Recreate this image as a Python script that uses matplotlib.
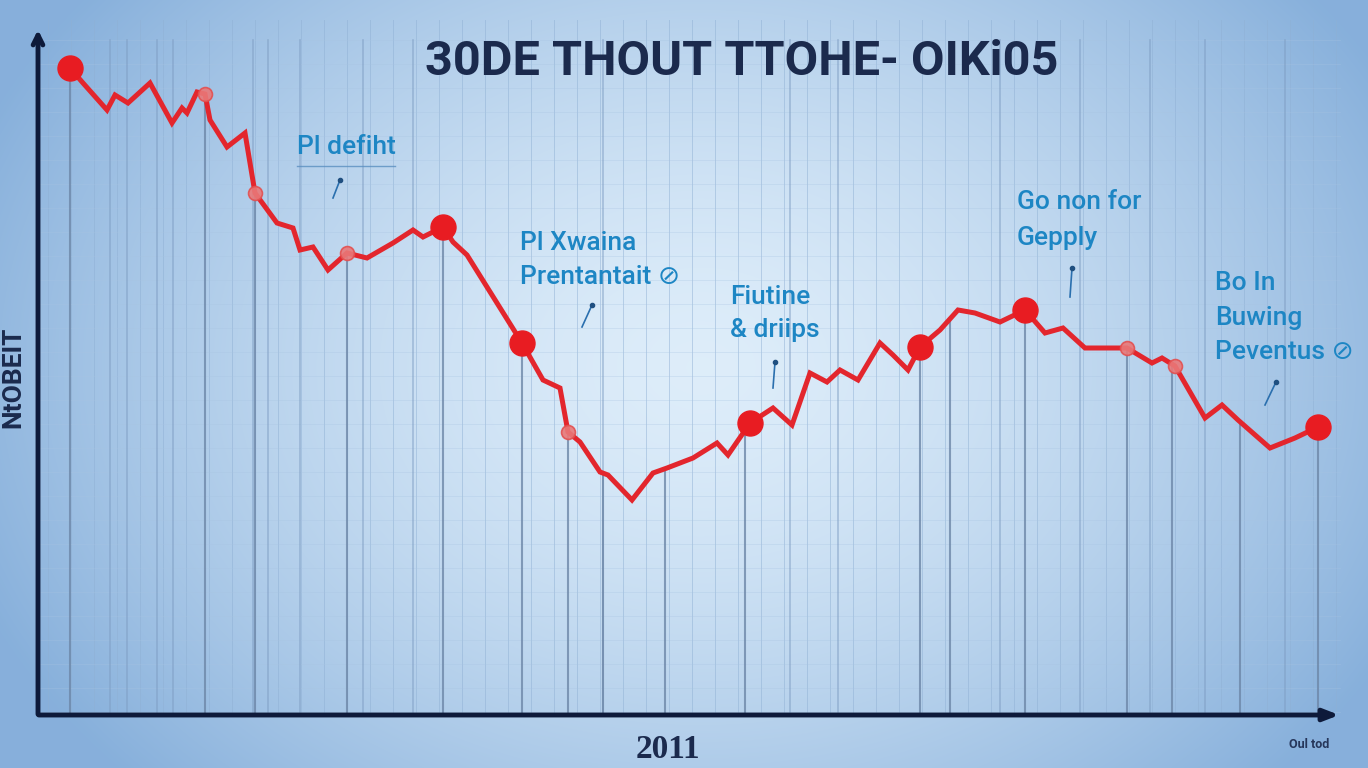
import numpy as np
import matplotlib
matplotlib.use("Agg")
import matplotlib.pyplot as plt

# ---- data (x = horizontal position, y = level) ----
line_x = [70, 83, 107, 115, 128, 150, 172, 182, 187, 197, 205, 210, 227, 245, 255,
          277, 293, 300, 313, 328, 347, 367, 393, 413, 423, 443, 453, 467, 522,
          543, 560, 568, 580, 600, 608, 632, 653, 667, 693, 717, 728, 750, 773,
          792, 810, 827, 840, 858, 880, 893, 908, 920, 940, 958, 975, 1000, 1025,
          1045, 1063, 1085, 1112, 1127, 1152, 1162, 1175, 1190, 1205, 1222, 1238,
          1270, 1295, 1318]
line_y_px = [68, 83, 110, 95, 103, 83, 123, 108, 113, 92, 94, 120, 147, 133, 193,
             223, 228, 250, 247, 270, 253, 258, 243, 230, 237, 227, 242, 255, 343,
             380, 388, 432, 442, 472, 475, 500, 473, 468, 458, 443, 455, 423, 408,
             425, 373, 382, 370, 380, 343, 355, 370, 347, 330, 310, 313, 322, 310,
             333, 328, 348, 348, 348, 363, 358, 366, 392, 418, 405, 420, 448, 438, 427]
line_y = [768 - v for v in line_y_px]

big_dot_x = [70, 443, 522, 750, 920, 1025, 1318]
small_dot_x = [205, 255, 347, 568, 1127, 1175]

drop_x = [70, 205, 255, 347, 443, 522, 568, 603, 665, 745, 920, 950, 1025, 1127, 1172, 1240, 1318]
grid_x = [110, 127, 157, 173, 253, 268, 300, 363, 413, 603, 790, 838, 1000, 1080, 1150, 1205, 1285]

title = "30DE THOUT TTOHE- OIKi05"
ylabel = "NtOBEIT"
xlabel = "2011"
corner_note = "Oul tod"
notes = [
    ("Pl defiht", 297, 147),
    ("Pl Xwaina", 520, 243),
    ("Prentantait ⊘", 520, 277),
    ("Fiutine", 730, 297),
    ("& driips", 730, 330),
    ("Go non for", 1017, 202),
    ("Gepply", 1017, 238),
    ("Bo In", 1215, 283),
    ("Buwing", 1215, 318),
    ("Peventus ⊘", 1215, 352),
]
ticks = [(340, 180, 333, 198), (592, 305, 582, 327), (775, 362, 773, 388),
         (1072, 268, 1070, 297), (1276, 382, 1265, 405)]

# ---- figure ----
W, H = 1368, 768
fig = plt.figure(figsize=(W / 100, H / 100), dpi=100)
ax = fig.add_axes([0, 0, 1, 1])
ax.set_xlim(0, W)
ax.set_ylim(0, H)
ax.axis("off")

# background gradient
yy, xx = np.mgrid[0:H, 0:W]
d = np.sqrt(((xx - 700) / 780.0) ** 2 + ((yy - 400) / 600.0) ** 2)
d = np.clip(d, 0, 1)
c_in = np.array([0.87, 0.93, 0.98])
c_out = np.array([0.53, 0.69, 0.86])
img = c_in[None, None, :] * (1 - d[..., None] ** 1.5) + c_out[None, None, :] * (d[..., None] ** 1.5)
ax.imshow(img, extent=[0, W, 0, H], origin="lower", zorder=0, aspect="auto")

# faint grid
for gx in np.arange(48, 1340, 23):
    ax.plot([gx, gx], [768 - 712, 768 - 20], color="#8fb0d4", lw=0.7, alpha=0.5, zorder=1)
for gy in np.arange(768 - 712, 768 - 20, 24):
    ax.plot([40, 1340], [gy, gy], color="#a8c4e2", lw=0.6, alpha=0.35, zorder=1)
for gx in grid_x:
    ax.plot([gx, gx], [768 - 712, 768 - 40], color="#7d9cc2", lw=1.2, alpha=0.55, zorder=1)

# drop lines from the curve
for dx in drop_x:
    yv = np.interp(dx, line_x, line_y)
    ax.plot([dx, dx], [768 - 712, yv], color="#6d87a8", lw=1.5, alpha=0.8, zorder=2)

# axes with arrows
ax.annotate("", xy=(1342, 768 - 715), xytext=(36, 768 - 715),
            arrowprops=dict(arrowstyle="-|>,head_length=0.9,head_width=0.35",
                            lw=3.5, color="#0e1a3a"), zorder=5)
ax.annotate("", xy=(38, 768 - 27), xytext=(38, 768 - 717),
            arrowprops=dict(arrowstyle="->,head_length=0.7,head_width=0.35",
                            lw=3.5, color="#0e1a3a"), zorder=5)

# red line
ax.plot(line_x, line_y, color="#e3262d", lw=3.6, solid_joinstyle="miter", zorder=4)
bx = big_dot_x
by = [np.interp(v, line_x, line_y) for v in bx]
ax.plot(bx, by, "o", ms=18, color="#e81c22", mec="#e81c22", zorder=6)
sx = small_dot_x
sy = [np.interp(v, line_x, line_y) for v in sx]
ax.plot(sx, sy, "o", ms=10, color="#e97878", mec="#e35050", mew=1.2, alpha=0.9, zorder=6)

# texts
ax.text(742, 768 - 62, title, ha="center", va="center", fontsize=35, fontweight="bold",
        family="Roboto", color="#1b2a4d", zorder=7)
ax.text(13, 768 - 377, ylabel, rotation=90, ha="center", va="center", fontsize=19,
        fontweight="bold", family="Roboto", color="#1b2a4d", zorder=7)
ax.text(668, 768 - 750, xlabel, ha="center", va="center", fontsize=24, fontweight="bold",
        family="Liberation Serif", color="#1b2a4d", zorder=7)
ax.text(1309, 768 - 745, corner_note, ha="center", va="center", fontsize=9,
        fontweight="bold", family="Roboto", color="#26365a", zorder=7)

for txt, tx, ty in notes:
    ax.text(tx, 768 - ty, txt, ha="left", va="center", fontsize=19, fontweight="medium",
            family=["Roboto", "DejaVu Sans"], color="#1d86c4", zorder=7)
ax.plot([297, 395], [768 - 166, 768 - 166], color="#5a8fc0", lw=1.0, alpha=0.8, zorder=7)
for x0, y0, x1, y1 in ticks:
    ax.plot([x0, x1], [768 - y0, 768 - y1], color="#2a6fae", lw=1.2, zorder=7)
    ax.plot([x0], [768 - y0], "o", ms=3, color="#1f4f80", zorder=7)

fig.savefig("out.png", dpi=100)
